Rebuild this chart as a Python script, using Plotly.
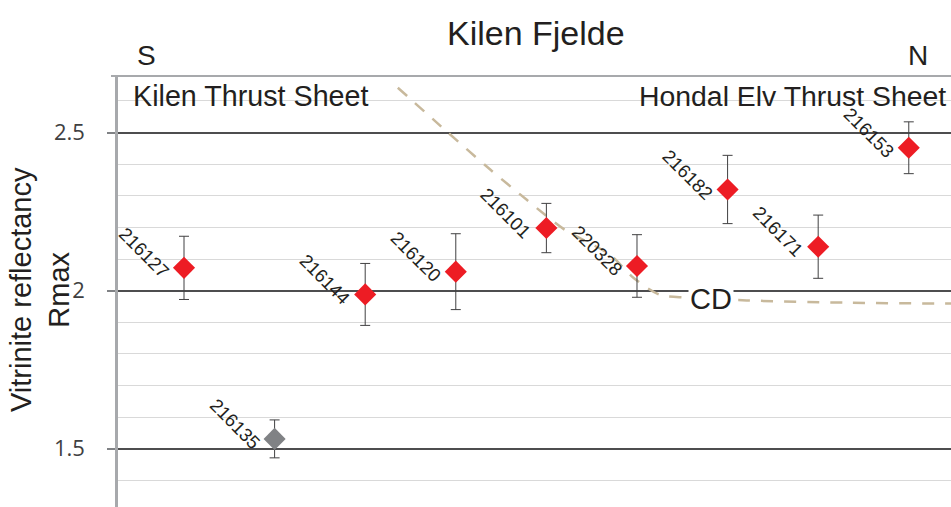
import plotly.graph_objects as go

# ---- data ----
samples = ["216127", "216135", "216144", "216120", "216101", "220328", "216182", "216171", "216153"]
positions = [1, 2, 3, 4, 5, 6, 7, 8, 9]
rmax = [2.072, 1.531, 1.988, 2.060, 2.198, 2.078, 2.320, 2.139, 2.452]
err = [0.100, 0.060, 0.098, 0.120, 0.078, 0.099, 0.108, 0.100, 0.082]
point_colors = ["#ed1c24", "#808285", "#ed1c24", "#ed1c24", "#ed1c24", "#ed1c24", "#ed1c24", "#ed1c24", "#ed1c24"]

cd_x = [3.36, 3.91, 4.38, 4.78, 5.20, 5.70, 5.96, 6.25, 6.55, 7.21, 8.30, 9.34, 9.47]
cd_y = [2.642, 2.501, 2.383, 2.288, 2.193, 2.114, 2.041, 1.987, 1.978, 1.969, 1.962, 1.959, 1.959]

W, H = 951, 507
L, R, T, B = 118, 0, 76, 0
TXT = "#231f20"
FONT = "Liberation Sans"

def px(x):
    return (x - L) / (W - L - R)

def py(y):
    return (H - B - y) / (H - T - B)

fig = go.Figure()

fig.add_trace(go.Scatter(
    x=cd_x, y=cd_y, mode="lines",
    line=dict(color="#c8b99c", width=2.5, dash="12px,11px", shape="spline", smoothing=0.8),
    hoverinfo="skip", showlegend=False,
))

fig.add_trace(go.Scatter(
    x=positions, y=rmax, mode="markers",
    marker=dict(symbol="diamond", size=17, color=point_colors, line=dict(width=0)),
    error_y=dict(type="data", array=err, visible=True, color="#414042", thickness=1, width=5),
    showlegend=False,
))

annotations = []
for xv, yv, s in zip(positions, rmax, samples):
    annotations.append(dict(
        x=xv, y=yv, xref="x", yref="y", text=s, showarrow=False,
        textangle=45, xshift=-40, yshift=15,
        font=dict(family=FONT, size=18.5, color=TXT),
        xanchor="center", yanchor="middle",
    ))

annotations.append(dict(
    x=6.82, y=1.972, xref="x", yref="y", text="CD", showarrow=False,
    font=dict(family=FONT, size=29, color=TXT), bgcolor="white",
    xanchor="center", yanchor="middle", borderpad=1,
))

annotations += [
    dict(x=px(536), y=py(33), xref="paper", yref="paper", text="Kilen Fjelde", showarrow=False,
         font=dict(family=FONT, size=34, color=TXT), xanchor="center", yanchor="middle"),
    dict(x=px(146), y=py(55), xref="paper", yref="paper", text="S", showarrow=False,
         font=dict(family=FONT, size=28, color=TXT), xanchor="center", yanchor="middle"),
    dict(x=px(918), y=py(55), xref="paper", yref="paper", text="N", showarrow=False,
         font=dict(family=FONT, size=28, color=TXT), xanchor="center", yanchor="middle"),
    dict(x=px(131), y=py(96), xref="paper", yref="paper", text="Kilen Thrust Sheet", showarrow=False,
         font=dict(family=FONT, size=28.7, color=TXT), xanchor="left", yanchor="middle"),
    dict(x=px(948), y=py(96), xref="paper", yref="paper", text="Hondal Elv Thrust Sheet", showarrow=False,
         font=dict(family=FONT, size=28.4, color=TXT), xanchor="right", yanchor="middle"),
    dict(x=px(40), y=py(290), xref="paper", yref="paper", text="Vitrinite reflectancy<br>Rmax",
         showarrow=False, textangle=-90,
         font=dict(family=FONT, size=29, color=TXT), xanchor="center", yanchor="middle"),
]

shapes = [
    dict(type="line", xref="paper", yref="paper", x0=px(111), x1=1, y0=1, y1=1,
         line=dict(color="#a7a9ac", width=2)),
]

fig.update_layout(
    width=W, height=H,
    margin=dict(l=L, r=R, t=T, b=B),
    plot_bgcolor="white", paper_bgcolor="white",
    annotations=annotations, shapes=shapes,
    xaxis=dict(range=[0.2715, 9.466], showgrid=False, zeroline=False, showticklabels=False,
               ticks="", showline=False, fixedrange=True),
    yaxis=dict(range=[1.3155, 2.679], tickvals=[1.5, 2.0, 2.5], ticktext=["1.5", "2", "2.5"],
               showgrid=True, gridcolor="#4d4d4f", gridwidth=1.6,
               minor=dict(dtick=0.1, tick0=0, showgrid=True, gridcolor="#d9d9d9", gridwidth=1.4, ticks=""),
               ticks="outside", ticklen=8, tickcolor="#808285", tickwidth=1.5,
               showline=True, linecolor="#a7a9ac", linewidth=2.5,
               zeroline=False,
               tickfont=dict(family="Open Sans", size=22, color="#404041"),
               ticklabelstandoff=18),
    showlegend=False,
)

fig.write_html("out.html", config={"displayModeBar": False},
               post_script="document.body.style.margin='0';document.body.style.padding='0';")
